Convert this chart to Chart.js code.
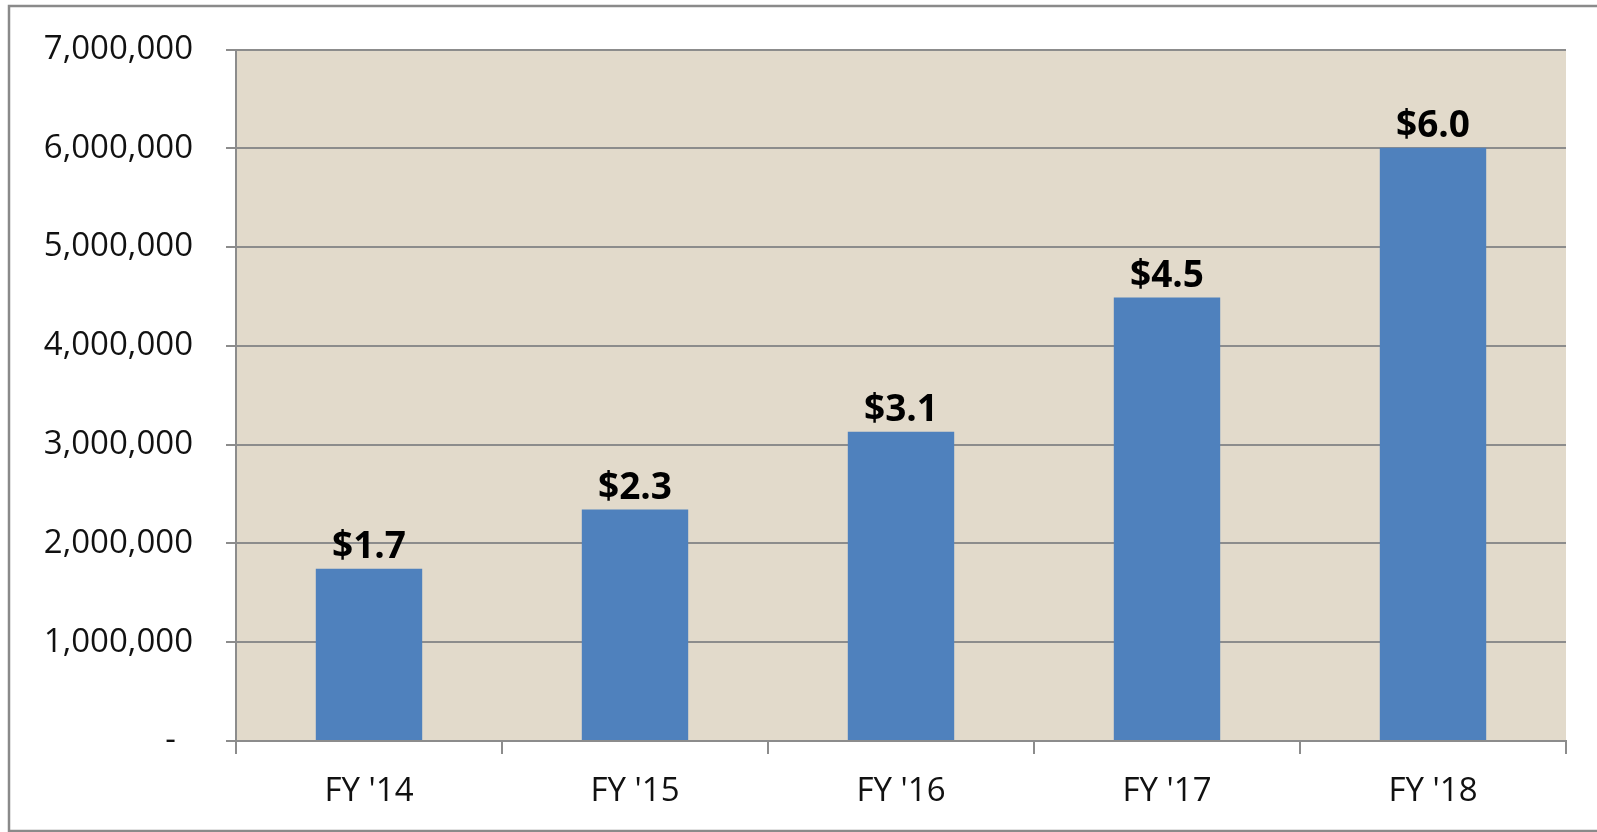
<!DOCTYPE html>
<html>
<head>
<meta charset="utf-8">
<script src="https://cdn.jsdelivr.net/npm/chart.js@4/dist/chart.umd.min.js"></script>
<style>
  html, body { margin: 0; padding: 0; background: #ffffff; }
  #wrap { width: 1597px; height: 832px; position: relative; }
</style>
</head>
<body>
<div id="wrap"><canvas id="c"></canvas></div>
<script>
const categories = ["FY '14", "FY '15", "FY '16", "FY '17", "FY '18"];
const revenue = [1743000, 2343000, 3131000, 4489000, 6006000];
const valueLabels = ["$1.7", "$2.3", "$3.1", "$4.5", "$6.0"];
const yTickValues = [0, 1000000, 2000000, 3000000, 4000000, 5000000, 6000000, 7000000];

const FONT = "'Open Sans', 'Noto Sans', sans-serif";
const GRID = '#8c8c8c';

const framePlugin = {
  id: 'frame',
  beforeDraw(chart) {
    const ctx = chart.ctx;
    const a = chart.chartArea;
    ctx.save();
    ctx.fillStyle = '#ffffff';
    ctx.fillRect(0, 0, chart.width, chart.height);
    ctx.strokeStyle = '#8a8a8a';
    ctx.lineWidth = 2.5;
    ctx.strokeRect(9, 6, chart.width + 20, 825);
    ctx.fillStyle = '#e2dacb';
    ctx.fillRect(a.left, a.top, a.right - a.left, a.bottom - a.top);
    ctx.restore();
  }
};

const valueLabelPlugin = {
  id: 'valueLabels',
  afterDatasetsDraw(chart) {
    const ctx = chart.ctx;
    const meta = chart.getDatasetMeta(0);
    ctx.save();
    ctx.font = "bold 37px " + FONT;
    ctx.fillStyle = '#000000';
    ctx.textAlign = 'center';
    ctx.textBaseline = 'alphabetic';
    meta.data.forEach((bar, i) => {
      ctx.fillText(valueLabels[i], bar.x, bar.y - 11);
    });
    ctx.restore();
  }
};

new Chart(document.getElementById('c'), {
  type: 'bar',
  data: {
    labels: categories,
    datasets: [{
      data: revenue,
      backgroundColor: '#4f81bd',
      borderWidth: 0,
      barPercentage: 0.8,
      categoryPercentage: 0.5
    }]
  },
  options: {
    responsive: true,
    maintainAspectRatio: false,
    animation: false,
    layout: { padding: { top: 49.5, right: 31, bottom: 0, left: 0 } },
    plugins: {
      legend: { display: false },
      tooltip: { enabled: false }
    },
    scales: {
      x: {
        offset: true,
        grid: {
          offset: true,
          drawOnChartArea: false,
          drawTicks: true,
          tickLength: 13,
          color: GRID,
          lineWidth: 2
        },
        border: { display: true, color: GRID, width: 2 },
        ticks: {
          font: { family: FONT, size: 33 },
          color: '#111111',
          padding: 18,
          maxRotation: 0
        },
        afterFit(scale) { scale.height = 91; }
      },
      y: {
        min: 0,
        max: 7000000,
        afterBuildTicks(scale) {
          scale.ticks = yTickValues.map(v => ({ value: v }));
        },
        grid: {
          color: GRID,
          lineWidth: 2,
          drawTicks: true,
          tickLength: 10
        },
        border: { display: true, color: GRID, width: 2 },
        ticks: {
          font: { family: FONT, size: 33 },
          color: '#111111',
          padding: 33,
          callback: (v) => v === 0 ? '-  ' : Number(v).toLocaleString('en-US')
        },
        afterFit(scale) {
          scale.width = 236;
          scale.paddingTop = 0;
          scale.paddingBottom = 0;
        }
      }
    }
  },
  plugins: [framePlugin, valueLabelPlugin]
});
</script>
</body>
</html>
